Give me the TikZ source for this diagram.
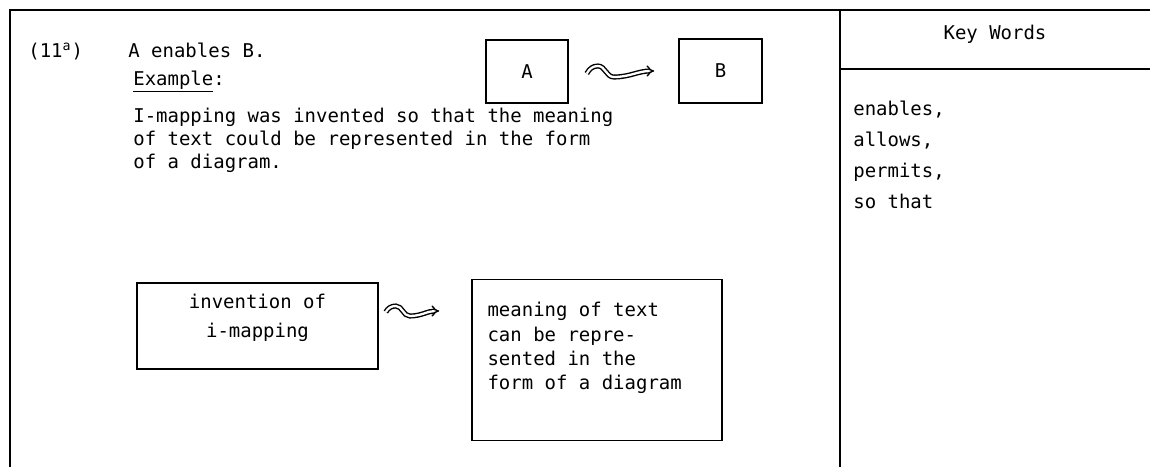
\documentclass[tikz,border=0pt]{standalone}
\usepackage{fontspec}
\setmainfont{DejaVu Sans Mono}
\usepackage{tikz}
\usetikzlibrary{arrows.meta}

\begin{document}
\begin{tikzpicture}[
    txt/.style={font=\fontsize{10.8}{13.1}\selectfont, inner sep=0pt},
    box/.style={draw, line width=0.9pt},
    squig/.style={double, double distance=1.3pt, line width=0.8pt, -{Implies}}
]
    \useasboundingbox (0,0) rectangle (23,9.34);
    \draw[line width=0.9pt] (0.2,0)--(0.2,9.14)--(23,9.14);
    \draw[line width=0.9pt] (16.8,0)--(16.8,9.14);
    \draw[line width=0.9pt] (16.8,7.96)--(23,7.96);

    \node[txt,anchor=base west] (num) at (0.56,8.2) {(11\textsuperscript{a})};
    \node[txt,anchor=base west] (rule) at (2.56,8.2) {A enables B.};
    \node[box,txt,minimum width=1.64cm,minimum height=1.26cm] (A) at (10.54,7.91) {A};
    \node[box,txt,minimum width=1.66cm,minimum height=1.28cm] (B) at (14.41,7.92) {B};
    \draw[squig] ([xshift=3.6mm,yshift=-0.4mm]A.east) to[out=60,in=180] ++(0.22,0.15)
        to[out=0,in=180] ++(0.32,-0.22) to[out=0,in=180] ([xshift=-4.8mm]B.west);

    \node[txt,anchor=base west] (ex) at (2.66,7.64) {\underline{Example}:};
    \node[txt,anchor=north west,align=left] (para) at (2.66,7.19)
        {I-mapping was invented so that the meaning\\
         of text could be represented in the form\\
         of a diagram.};

    % boxes of the example
    \node[box,minimum width=4.82cm,minimum height=1.72cm] (inv) at (5.15,2.82) {};
    \node[txt,anchor=north,align=center,font=\fontsize{10.8}{16.5}\selectfont] (invtxt)
        at ([yshift=-2.3mm]inv.north) {invention of\\i-mapping};
    \node[box,minimum width=5cm,minimum height=3.22cm] (mean) at (11.94,2.14) {};
    \node[txt,anchor=north west,align=left,font=\fontsize{10.8}{13.7}\selectfont] (meantxt)
        at ([xshift=3.2mm,yshift=-4.7mm]mean.north west)
        {meaning of text\\can be repre-\\sented in the\\form of a diagram};
    \draw[squig] ([xshift=1.4mm,yshift=2.8mm]inv.east) to[out=60,in=180] ++(0.2,0.12)
        to[out=0,in=180] ++(0.28,-0.2) to[out=0,in=180] ([xshift=-6.4mm,yshift=9.8mm]mean.west);

    \node[txt,anchor=base] (key) at (19.9,8.56) {Key Words};
    \node[txt,anchor=north west,align=left,font=\fontsize{10.8}{17.6}\selectfont] (list) at (17.06,7.33)
        {enables,\\allows,\\permits,\\so that};
\end{tikzpicture}
\end{document}
